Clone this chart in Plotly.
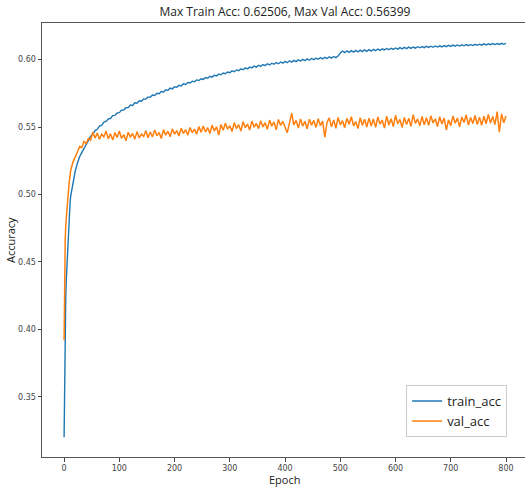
import plotly.graph_objects as go

epochs = list(range(0, 12)) + list(range(12, 801, 4))

train_acc = [
    0.320, 0.372, 0.404, 0.424, 0.437, 0.447, 0.457, 0.468, 0.477, 0.484, 0.490, 0.495,
    0.499, 0.509, 0.517, 0.523, 0.528, 0.531, 0.534, 0.537, 0.540, 0.543,
    # 52..148
    0.5448, 0.5474, 0.5483, 0.5507, 0.5512, 0.5536, 0.5541, 0.5560, 0.5563, 0.5584, 0.5586, 0.5604, 0.5606,
    0.5625, 0.5626, 0.5643, 0.5644, 0.5663, 0.5660, 0.5680, 0.5676, 0.5695, 0.5691, 0.5708, 0.5707,
    # 152..248
    0.5723, 0.5720, 0.5737, 0.5734, 0.5750, 0.5747, 0.5763, 0.5760, 0.5776, 0.5772, 0.5788, 0.5783, 0.5798,
    0.5794, 0.5809, 0.5805, 0.5820, 0.5815, 0.5830, 0.5826, 0.5840, 0.5836, 0.5849, 0.5845, 0.5858,
    # 252..348
    0.5853, 0.5867, 0.5862, 0.5876, 0.5870, 0.5884, 0.5879, 0.5892, 0.5887, 0.5900, 0.5895, 0.5908, 0.5902,
    0.5916, 0.5910, 0.5923, 0.5917, 0.5931, 0.5924, 0.5938, 0.5931, 0.5944, 0.5938, 0.5951, 0.5944,
    # 352..448
    0.5958, 0.5950, 0.5963, 0.5955, 0.5969, 0.5960, 0.5973, 0.5965, 0.5978, 0.5969, 0.5982, 0.5973, 0.5986,
    0.5977, 0.5991, 0.5981, 0.5994, 0.5985, 0.5998, 0.5989, 0.6001, 0.5992, 0.6005, 0.5995, 0.6008,
    # 452..548
    0.5999, 0.6011, 0.6002, 0.6014, 0.6005, 0.6017, 0.6008, 0.6020, 0.6011, 0.6023, 0.6014, 0.6026, 0.6048,
    0.6063, 0.6051, 0.6064, 0.6053, 0.6066, 0.6055, 0.6068, 0.6057, 0.6070, 0.6059, 0.6072, 0.6061,
    # 552..648
    0.6074, 0.6063, 0.6076, 0.6066, 0.6078, 0.6068, 0.6080, 0.6071, 0.6082, 0.6073, 0.6084, 0.6075, 0.6086,
    0.6077, 0.6088, 0.6079, 0.6090, 0.6081, 0.6092, 0.6083, 0.6093, 0.6085, 0.6095, 0.6087, 0.6096,
    # 652..748
    0.6088, 0.6098, 0.6090, 0.6099, 0.6091, 0.6101, 0.6093, 0.6102, 0.6094, 0.6104, 0.6096, 0.6105, 0.6097,
    0.6107, 0.6099, 0.6108, 0.6100, 0.6109, 0.6102, 0.6111, 0.6103, 0.6112, 0.6104, 0.6113, 0.6106,
    # 752..800
    0.6114, 0.6107, 0.6116, 0.6108, 0.6117, 0.6110, 0.6118, 0.6111, 0.6119, 0.6112, 0.6120, 0.6113, 0.6121,
]

val_acc = [
    0.392, 0.448, 0.466, 0.477, 0.484, 0.490, 0.494, 0.498, 0.503, 0.508, 0.512, 0.515,
    0.518, 0.524, 0.5285, 0.5315, 0.5355, 0.5348, 0.5392, 0.5378, 0.5415, 0.5402,
    # 52..148
    0.5462, 0.5418, 0.5455, 0.5409, 0.5447, 0.5428, 0.5468, 0.5412, 0.5451, 0.5403, 0.5458, 0.5422, 0.5470,
    0.5415, 0.5444, 0.5398, 0.5461, 0.5425, 0.5452, 0.5410, 0.5466, 0.5419, 0.5448, 0.5430, 0.5473,
    # 152..248
    0.5421, 0.5463, 0.5427, 0.5478, 0.5436, 0.5459, 0.5415, 0.5481, 0.5440, 0.5469, 0.5428, 0.5486, 0.5447,
    0.5474, 0.5433, 0.5491, 0.5452, 0.5480, 0.5439, 0.5497, 0.5458, 0.5484, 0.5446, 0.5503, 0.5461,
    # 252..348
    0.5507, 0.5463, 0.5495, 0.5452, 0.5514, 0.5471, 0.5502, 0.5440, 0.5519, 0.5476, 0.5528, 0.5484, 0.5510,
    0.5466, 0.5533, 0.5489, 0.5517, 0.5470, 0.5539, 0.5495, 0.5522, 0.5478, 0.5544, 0.5499, 0.5526,
    # 352..448
    0.5488, 0.5547, 0.5501, 0.5532, 0.5483, 0.5551, 0.5506, 0.5538, 0.5479, 0.5556, 0.5512, 0.5541, 0.5494,
    0.5458, 0.5529, 0.5603, 0.5515, 0.5549, 0.5492, 0.5560, 0.5507, 0.5543, 0.5486, 0.5558, 0.5513,
    # 452..548
    0.5549, 0.5497, 0.5562, 0.5509, 0.5544, 0.5425, 0.5536, 0.5568, 0.5502, 0.5553, 0.5491, 0.5571, 0.5516,
    0.5547, 0.5495, 0.5564, 0.5520, 0.5576, 0.5508, 0.5541, 0.5488, 0.5569, 0.5513, 0.5558, 0.5500,
    # 552..648
    0.5566, 0.5508, 0.5559, 0.5497, 0.5574, 0.5521, 0.5551, 0.5492, 0.5580, 0.5515, 0.5562, 0.5503, 0.5587,
    0.5524, 0.5557, 0.5496, 0.5571, 0.5519, 0.5564, 0.5505, 0.5592, 0.5527, 0.5560, 0.5509, 0.5578,
    # 652..748
    0.5517, 0.5569, 0.5512, 0.5583, 0.5530, 0.5561, 0.5504, 0.5576, 0.5523, 0.5566, 0.5478, 0.5553, 0.5510,
    0.5581, 0.5528, 0.5567, 0.5501, 0.5574, 0.5533, 0.5589, 0.5515, 0.5570, 0.5526, 0.5585, 0.5519,
    # 752..800
    0.5572, 0.5513, 0.5580, 0.5524, 0.5593, 0.5530, 0.5578, 0.5518, 0.5615, 0.5462, 0.5598, 0.5532, 0.5582,
]

x_ticks = [0, 100, 200, 300, 400, 500, 600, 700, 800]
y_ticks = [0.35, 0.40, 0.45, 0.50, 0.55, 0.60]
y_tick_labels = ["0.35", "0.40", "0.45", "0.50", "0.55", "0.60"]
title_text = "Max Train Acc: 0.62506, Max Val Acc: 0.56399"
x_title = "Epoch"
y_title = "Accuracy"

fig = go.Figure()
fig.add_trace(go.Scatter(x=epochs, y=train_acc, mode="lines", name="train_acc",
                         line=dict(color="#1f77b4", width=1.4)))
fig.add_trace(go.Scatter(x=epochs, y=val_acc, mode="lines", name="val_acc",
                         line=dict(color="#ff7f0e", width=1.5)))

fig.update_layout(
    width=525, height=487,
    margin=dict(l=42, r=0, t=23, b=30, autoexpand=False),
    paper_bgcolor="white", plot_bgcolor="white",
    font=dict(family="DejaVu Sans", color="#333"),
    title=dict(text=title_text, x=0.503, xref="paper", xanchor="center",
               y=1 - 12 / 487, yref="container", yanchor="middle",
               font=dict(family="Open Sans", size=12, color="#222")),
    showlegend=True,
    legend=dict(x=0.963, xanchor="right", y=0.046, yanchor="bottom",
                bordercolor="#cccccc", borderwidth=1, bgcolor="white",
                font=dict(family="Open Sans", size=13, color="#222"),
                tracegroupgap=0, itemwidth=30),
    annotations=[
        dict(text=x_title, xref="paper", yref="paper", x=0.503, y=-22.5 / 434,
             xanchor="center", yanchor="middle", showarrow=False,
             font=dict(family="Open Sans", size=11, color="#222")),
        dict(text=y_title, xref="paper", yref="paper", x=-32 / 483, y=0.5,
             xanchor="center", yanchor="middle", showarrow=False, textangle=-90,
             font=dict(family="Open Sans", size=11, color="#222")),
    ],
)
fig.update_xaxes(
    range=[-40, 834.4], tickvals=x_ticks, ticks="outside", ticklen=3.5, tickwidth=0.8,
    tickcolor="#444", showgrid=False, zeroline=False, showline=True, linecolor="#555",
    linewidth=1, mirror=True, tickfont=dict(size=8, color="#444"), automargin=False,
)
fig.update_yaxes(
    range=[0.3054, 0.6271], tickvals=y_ticks, ticktext=y_tick_labels, ticks="outside",
    ticklen=3.5, tickwidth=0.8, tickcolor="#444", showgrid=False, zeroline=False,
    showline=True, linecolor="#555", linewidth=1, mirror=False, automargin=False,
    tickfont=dict(size=8, color="#444"),
)

fig.write_html("out.html", config={"displayModeBar": False})

# remove the default browser body margin so the figure sits at the page origin
with open("out.html", "r", encoding="utf-8") as f:
    html = f.read()
html = html.replace("<head>", "<head><style>html,body{margin:0;padding:0;overflow:hidden;}</style>", 1)
with open("out.html", "w", encoding="utf-8") as f:
    f.write(html)
